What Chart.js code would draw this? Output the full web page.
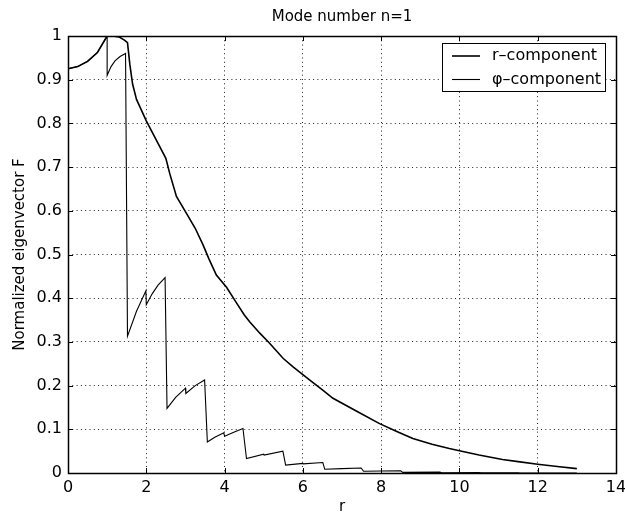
<!DOCTYPE html>
<html>
<head>
<meta charset="utf-8">
<script src="https://cdn.jsdelivr.net/npm/chart.js@4/dist/chart.umd.min.js"></script>
<style>
  html, body { margin: 0; padding: 0; background: #fff; }
  #wrap { width: 625px; height: 516px; }
</style>
</head>
<body>
<div id="wrap"><canvas id="c" width="625" height="516"></canvas></div>
<script>
// ---- data ----
const chartTitle = "Mode number n=1";
const xTitle = "r";
const yTitle = "Normalized eigenvector F";
const seriesNames = ["r\u2013component", "\u03c6\u2013component"];

const xTicks = [0, 2, 4, 6, 8, 10, 12, 14];
const yTicks = [0, 0.1, 0.2, 0.3, 0.4, 0.5, 0.6, 0.7, 0.8, 0.9, 1];

// r-component (smooth curve)
const rCompR = [0, 0.25, 0.5, 0.75, 1.0, 1.15, 1.3, 1.45, 1.52, 1.58, 1.65, 1.75, 2.0, 2.25, 2.5, 2.6, 2.77, 3.0, 3.25, 3.45, 3.6, 3.79, 4.05, 4.3, 4.5, 4.64, 4.9, 5.15, 5.5, 5.75, 6.17, 6.5, 6.77, 7.4, 7.96, 8.4, 8.81, 9.3, 9.74, 10.0, 10.5, 11.1, 11.5, 12.0, 12.5, 13.0];
const rCompF = [0.925, 0.93, 0.942, 0.962, 1.0, 1.0, 0.998, 0.99, 0.985, 0.935, 0.89, 0.855, 0.806, 0.763, 0.72, 0.685, 0.633, 0.598, 0.56, 0.522, 0.49, 0.453, 0.425, 0.39, 0.362, 0.346, 0.32, 0.297, 0.262, 0.243, 0.213, 0.19, 0.171, 0.14, 0.113, 0.095, 0.079, 0.066, 0.056, 0.051, 0.041, 0.031, 0.026, 0.02, 0.015, 0.01];

// phi-component (saw-tooth curve)
const phiCompR = [0, 0.25, 0.5, 0.75, 1.0, 1.0, 1.1, 1.2, 1.33, 1.47, 1.52, 1.75, 1.99, 2.0, 2.15, 2.3, 2.48, 2.53, 2.75, 3.0, 3.01, 3.25, 3.49, 3.56, 3.75, 3.98, 4.0, 4.25, 4.47, 4.56, 5.0, 5.01, 5.49, 5.56, 6.0, 6.01, 6.51, 6.56, 7.0, 7.49, 7.55, 8.0, 8.5, 8.55, 9.5, 9.55, 10.5, 10.55, 11.5, 11.55, 12.5, 12.55, 13.0];
const phiCompF = [0.925, 0.93, 0.942, 0.962, 1.0, 0.91, 0.93, 0.943, 0.953, 0.96, 0.313, 0.37, 0.417, 0.385, 0.41, 0.43, 0.447, 0.148, 0.173, 0.194, 0.182, 0.2, 0.213, 0.071, 0.082, 0.092, 0.084, 0.094, 0.102, 0.033, 0.043, 0.041, 0.05, 0.018, 0.022, 0.021, 0.024, 0.0085, 0.01, 0.0115, 0.004, 0.0045, 0.005, 0.0015, 0.002, 0.0006, 0.0008, 0.0002, 0.0003, 0.0001, 0.0001, 0.00005, 0.00005];

// ---- build chart ----
const FONT = "'DejaVu Sans', 'Liberation Sans', sans-serif";
const toPts = (xs, ys) => xs.map((x, i) => ({ x: x, y: ys[i] }));

const framePlugin = {
  id: 'frame',
  afterDraw(chart) {
    const { ctx, chartArea: a, scales } = chart;
    ctx.save();
    ctx.strokeStyle = '#000';
    ctx.lineWidth = 1;
    ctx.setLineDash([]);
    ctx.beginPath();
    const tl = 5;
    xTicks.forEach(v => {
      const p = Math.round(scales.x.getPixelForValue(v)) + 0.5;
      ctx.moveTo(p, a.bottom); ctx.lineTo(p, a.bottom - tl);
      ctx.moveTo(p, a.top); ctx.lineTo(p, a.top + tl);
    });
    yTicks.forEach(v => {
      const p = Math.round(scales.y.getPixelForValue(v)) + 0.5;
      ctx.moveTo(a.left, p); ctx.lineTo(a.left + tl, p);
      ctx.moveTo(a.right, p); ctx.lineTo(a.right - tl, p);
    });
    ctx.stroke();
    ctx.lineWidth = 1.5;
    ctx.strokeRect(Math.round(a.left) + 0.5, Math.round(a.top) + 0.5,
                   Math.round(a.right - a.left), Math.round(a.bottom - a.top));
    // title centred over plot area
    ctx.fillStyle = '#000';
    ctx.font = '15px ' + FONT;
    ctx.textAlign = 'center';
    ctx.textBaseline = 'middle';
    ctx.fillText(chartTitle, (a.left + a.right) / 2, 17);
    // legend box
    const bw = 163, bh = 48;
    const bx = a.right - 11 - bw, by = a.top + 7;
    ctx.fillStyle = '#fff';
    ctx.fillRect(bx, by, bw, bh);
    ctx.lineWidth = 1;
    ctx.strokeStyle = '#000';
    ctx.strokeRect(Math.round(bx) + 0.5, Math.round(by) + 0.5, bw, bh);
    chart.data.datasets.forEach((ds, i) => {
      const yy = by + 13 + i * 23.5;
      ctx.beginPath();
      ctx.lineWidth = ds.borderWidth;
      ctx.strokeStyle = ds.borderColor;
      ctx.moveTo(bx + 10, yy); ctx.lineTo(bx + 38, yy);
      ctx.stroke();
      ctx.fillStyle = '#000';
      ctx.font = '16px ' + FONT;
      ctx.textAlign = 'left';
      ctx.textBaseline = 'middle';
      ctx.fillText(ds.label, bx + 50, yy);
    });
    ctx.restore();
  }
};

new Chart(document.getElementById('c'), {
  type: 'line',
  data: {
    datasets: [
      { label: seriesNames[0], data: toPts(rCompR, rCompF), borderColor: '#000', borderWidth: 1.6, pointRadius: 0, tension: 0, fill: false },
      { label: seriesNames[1], data: toPts(phiCompR, phiCompF), borderColor: '#000', borderWidth: 1.1, pointRadius: 0, tension: 0, fill: false }
    ]
  },
  options: {
    responsive: false,
    animation: false,
    events: [],
    layout: { padding: { top: 36, right: 9, left: 0, bottom: 0 } },
    plugins: { legend: { display: false }, title: { display: false }, tooltip: { enabled: false } },
    scales: {
      x: {
        type: 'linear', min: 0, max: 14,
        afterBuildTicks: s => { s.ticks = xTicks.map(v => ({ value: v })); },
        afterFit: s => { s.height = 43; s.paddingLeft = 0; s.paddingRight = 0; },
        ticks: { color: '#000', font: { family: FONT, size: 16 }, padding: 5, maxRotation: 0 },
        grid: { color: '#222', lineWidth: 1, drawTicks: false },
        border: { display: false, dash: [1, 3.3] },
        title: { display: true, text: xTitle, color: '#000', font: { family: FONT, size: 15 }, padding: { top: 0, bottom: 0 } }
      },
      y: {
        type: 'linear', min: 0, max: 1,
        afterBuildTicks: s => { s.ticks = yTicks.map(v => ({ value: v })); },
        afterFit: s => { s.width = 68; s.paddingTop = 0; s.paddingBottom = 0; },
        ticks: { color: '#000', font: { family: FONT, size: 16 }, padding: 6,
                 callback: v => String(v) },
        grid: { color: '#222', lineWidth: 1, drawTicks: false },
        border: { display: false, dash: [1, 3.3] },
        title: { display: true, text: yTitle, color: '#000', font: { family: FONT, size: 15 }, padding: { top: 11, bottom: 0 } }
      }
    }
  },
  plugins: [framePlugin]
});
</script>
</body>
</html>
